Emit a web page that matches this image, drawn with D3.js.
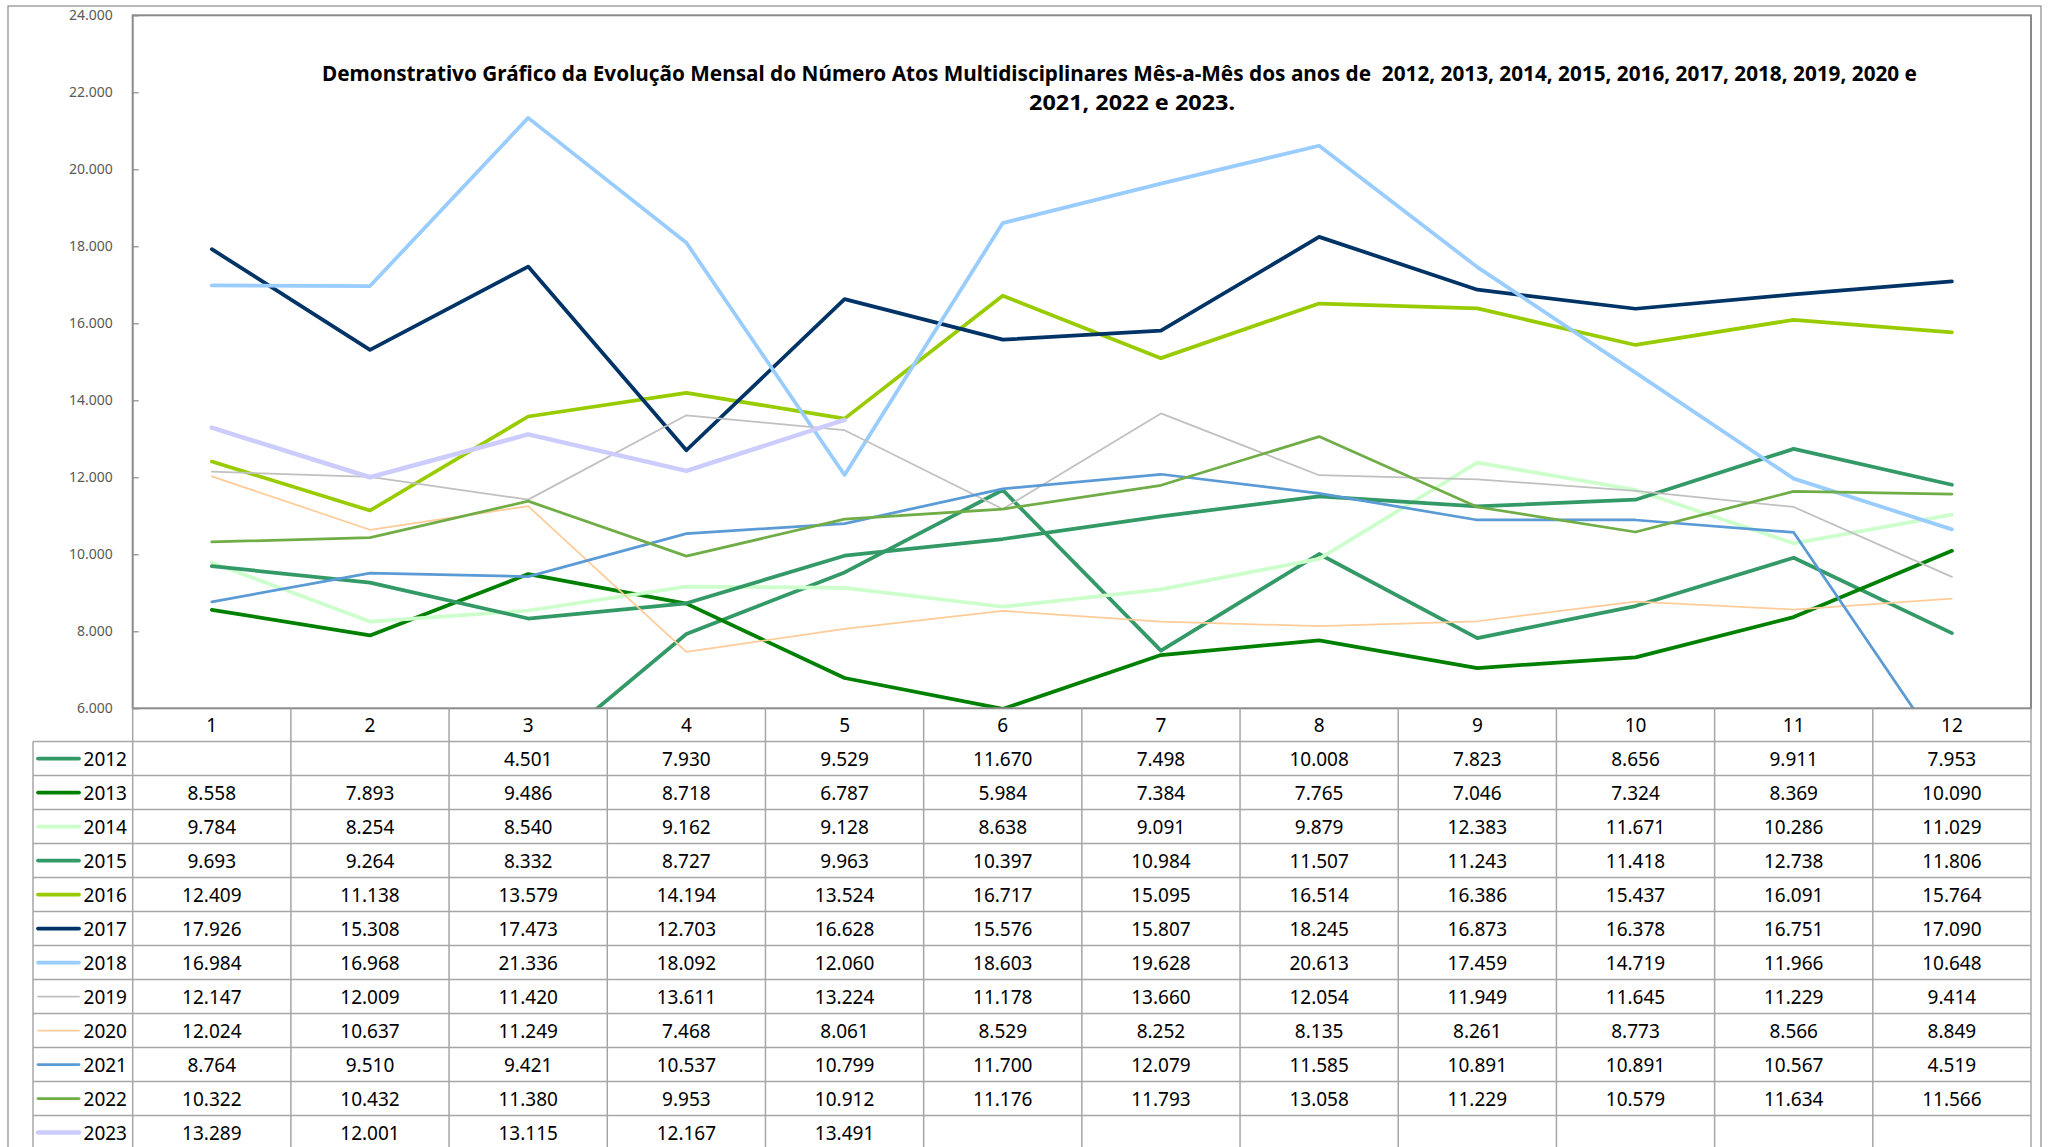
<!DOCTYPE html>
<html>
<head>
<meta charset="utf-8">
<script src="https://cdn.jsdelivr.net/npm/d3@7"></script>
<style>
  html, body { margin: 0; padding: 0; background: #fff; }
  svg { display: block; }
</style>
</head>
<body>
<svg id="chart" width="2053" height="1147"></svg>
<script>
// ---------------- DATA ----------------
const months = [1, 2, 3, 4, 5, 6, 7, 8, 9, 10, 11, 12];
const yTicks = [6000, 8000, 10000, 12000, 14000, 16000, 18000, 20000, 22000, 24000];
const years = ["2012", "2013", "2014", "2015", "2016", "2017", "2018", "2019", "2020", "2021", "2022", "2023"];
const titleLines = [
  "Demonstrativo Gráfico da Evolução Mensal do Número Atos Multidisciplinares Mês-a-Mês dos anos de  2012, 2013, 2014, 2015, 2016, 2017, 2018, 2019, 2020 e",
  "2021, 2022 e 2023."
];

const v2012 = [null, null, 4501, 7930, 9529, 11670, 7498, 10008, 7823, 8656, 9911, 7953];
const v2013 = [8558, 7893, 9486, 8718, 6787, 5984, 7384, 7765, 7046, 7324, 8369, 10090];
const v2014 = [9784, 8254, 8540, 9162, 9128, 8638, 9091, 9879, 12383, 11671, 10286, 11029];
const v2015 = [9693, 9264, 8332, 8727, 9963, 10397, 10984, 11507, 11243, 11418, 12738, 11806];
const v2016 = [12409, 11138, 13579, 14194, 13524, 16717, 15095, 16514, 16386, 15437, 16091, 15764];
const v2017 = [17926, 15308, 17473, 12703, 16628, 15576, 15807, 18245, 16873, 16378, 16751, 17090];
const v2018 = [16984, 16968, 21336, 18092, 12060, 18603, 19628, 20613, 17459, 14719, 11966, 10648];
const v2019 = [12147, 12009, 11420, 13611, 13224, 11178, 13660, 12054, 11949, 11645, 11229, 9414];
const v2020 = [12024, 10637, 11249, 7468, 8061, 8529, 8252, 8135, 8261, 8773, 8566, 8849];
const v2021 = [8764, 9510, 9421, 10537, 10799, 11700, 12079, 11585, 10891, 10891, 10567, 4519];
const v2022 = [10322, 10432, 11380, 9953, 10912, 11176, 11793, 13058, 11229, 10579, 11634, 11566];
const v2023 = [13289, 12001, 13115, 12167, 13491, null, null, null, null, null, null, null];

const seriesValues = [v2012, v2013, v2014, v2015, v2016, v2017, v2018, v2019, v2020, v2021, v2022, v2023];

// ---------------- STYLES ----------------
const seriesColors = ["#339966", "#008000", "#CCFFCC", "#339966", "#99CC00", "#003366",
                      "#99CCFF", "#C0C0C0", "#FFCC99", "#5B9BD5", "#70AD47", "#CCCCFF"];
const seriesWidths = [3.75, 3.75, 3.75, 3.75, 3.75, 3.75, 3.75, 1.75, 1.75, 2.75, 2.75, 4.5];

const series = years.map((y, i) => ({
  name: y, values: seriesValues[i], color: seriesColors[i], width: seriesWidths[i]
}));

// ---------------- LAYOUT ----------------
const W = 2053, H = 1147;
const plot = { left: 132.7, right: 2031, top: 15.3, bottom: 708.3 };
const headerBottom = 741.5;
const rowH = 34;
const tableLeft = 33;
const frame = { left: 8, top: 6, right: 2041 };

const locale = d3.formatLocale({ decimal: ",", thousands: ".", grouping: [3], currency: ["R$", ""] });
const fmt = locale.format(",.0f");

const svg = d3.select("#chart");

const x = d3.scaleBand().domain(months).range([plot.left, plot.right]).paddingInner(0).paddingOuter(0);
const y = d3.scaleLinear().domain([6000, 24000]).range([plot.bottom, plot.top]);

// outer frame
svg.append("rect")
  .attr("x", frame.left).attr("y", frame.top)
  .attr("width", frame.right - frame.left).attr("height", H + 20)
  .attr("fill", "none").attr("stroke", "#8a8a8a").attr("stroke-width", 1.2);

// clip
svg.append("clipPath").attr("id", "plotclip")
  .append("rect")
  .attr("x", plot.left).attr("y", plot.top)
  .attr("width", plot.right - plot.left).attr("height", plot.bottom - plot.top);

// y axis labels & ticks
const yAxis = d3.axisLeft(y).tickValues(yTicks).tickFormat(fmt).tickSize(-6).tickPadding(20);
const gy = svg.append("g").attr("transform", `translate(${plot.left},0)`).call(yAxis);
gy.select(".domain").remove();
gy.selectAll(".tick line").attr("stroke", "#8a8a8a").attr("stroke-width", 1.2);
gy.selectAll(".tick text")
  .attr("fill", "#595959")
  .style("font-family", "'Noto Sans', 'Open Sans', sans-serif")
  .style("font-size", "14px");

// lines
const line = d3.line()
  .defined(d => d != null)
  .x((d, i) => x(months[i]) + x.bandwidth() / 2)
  .y(d => y(d));

const gLines = svg.append("g").attr("clip-path", "url(#plotclip)");
series.forEach(s => {
  gLines.append("path")
    .datum(s.values)
    .attr("d", line)
    .attr("fill", "none")
    .attr("stroke", s.color)
    .attr("stroke-width", s.width)
    .attr("stroke-linejoin", "round")
    .attr("stroke-linecap", "round");
});

// plot border
svg.append("rect")
  .attr("x", plot.left).attr("y", plot.top)
  .attr("width", plot.right - plot.left).attr("height", plot.bottom - plot.top)
  .attr("fill", "none").attr("stroke", "#8a8a8a").attr("stroke-width", 2);

// title
const titleX = [322, 1029];
const titleLen = [1595, 206];
const titleY = [81, 110];
titleLines.forEach((t, i) => {
  svg.append("text")
    .attr("x", titleX[i]).attr("y", titleY[i])
    .attr("textLength", titleLen[i])
    .attr("lengthAdjust", "spacingAndGlyphs")
    .style("font-family", "'Noto Sans', 'Open Sans', sans-serif")
    .style("font-weight", "bold")
    .style("font-size", "21px")
    .attr("fill", "#000")
    .style("white-space", "pre")
    .attr("xml:space", "preserve")
    .text(t);
});

// ---------------- TABLE ----------------
const gridColor = "#a6a6a6";
const gT = svg.append("g");
const tableFont = "'Noto Sans', 'Open Sans', sans-serif";

// header row verticals
const colEdges = months.map(m => x(m)).concat([plot.right]);
colEdges.forEach(cx => {
  gT.append("line")
    .attr("x1", cx).attr("x2", cx)
    .attr("y1", plot.bottom).attr("y2", H + 10)
    .attr("stroke", gridColor).attr("stroke-width", 1.5);
});
// table left border
gT.append("line")
  .attr("x1", tableLeft).attr("x2", tableLeft)
  .attr("y1", headerBottom).attr("y2", H + 10)
  .attr("stroke", gridColor).attr("stroke-width", 1.5);
// horizontal lines
for (let r = 0; r <= years.length; r++) {
  const yy = headerBottom + r * rowH;
  gT.append("line")
    .attr("x1", tableLeft).attr("x2", plot.right)
    .attr("y1", yy).attr("y2", yy)
    .attr("stroke", gridColor).attr("stroke-width", 1.5);
}

// header labels
months.forEach(m => {
  gT.append("text")
    .attr("x", x(m) + x.bandwidth() / 2)
    .attr("y", (plot.bottom + headerBottom) / 2)
    .attr("text-anchor", "middle")
    .attr("dominant-baseline", "central")
    .style("font-family", tableFont).style("font-size", "19px")
    .attr("fill", "#000")
    .text(m);
});

// rows
series.forEach((s, r) => {
  const cy = headerBottom + r * rowH + rowH / 2;
  gT.append("line")
    .attr("x1", 38).attr("x2", 79)
    .attr("y1", cy).attr("y2", cy)
    .attr("stroke", s.color).attr("stroke-width", s.width)
    .attr("stroke-linecap", "round");
  gT.append("text")
    .attr("x", 127).attr("y", cy)
    .attr("text-anchor", "end")
    .attr("dominant-baseline", "central")
    .style("font-family", tableFont).style("font-size", "19px")
    .attr("fill", "#000")
    .text(s.name);
  s.values.forEach((v, i) => {
    if (v == null) return;
    gT.append("text")
      .attr("x", x(months[i]) + x.bandwidth() / 2)
      .attr("y", cy)
      .attr("text-anchor", "middle")
      .attr("dominant-baseline", "central")
      .style("font-family", tableFont).style("font-size", "19px")
      .attr("fill", "#000")
      .text(fmt(v));
  });
});
</script>
</body>
</html>
